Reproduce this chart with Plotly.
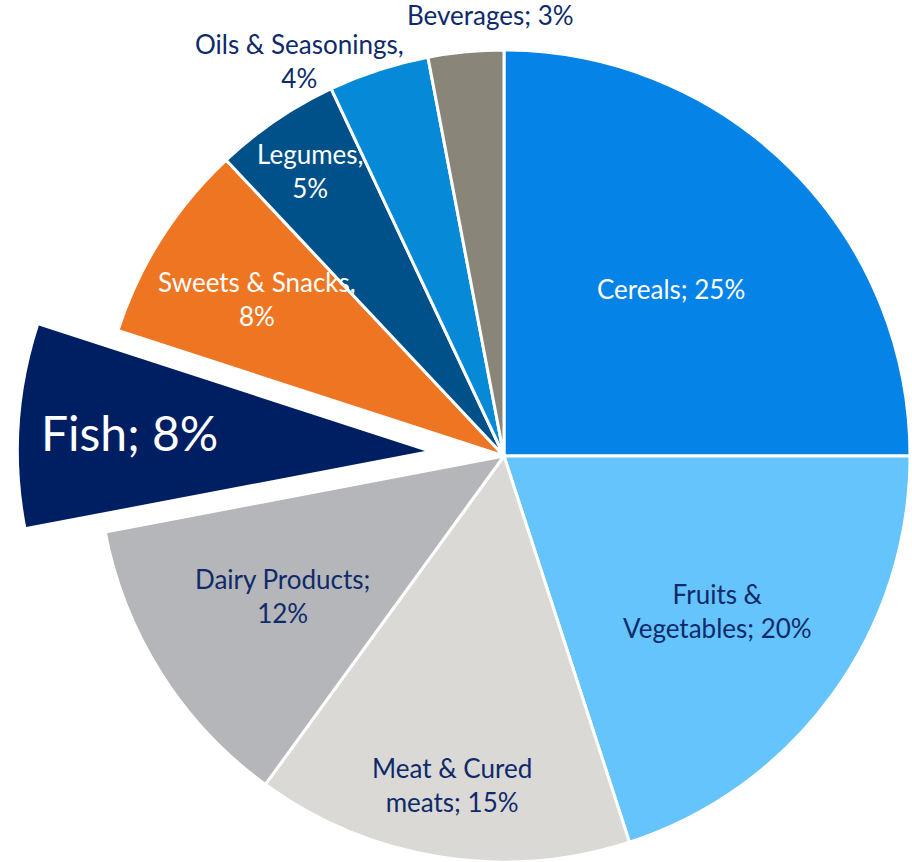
import numpy as np
import plotly.graph_objects as go

categories = ["Cereals", "Fruits &<br>Vegetables", "Meat & Cured<br>meats", "Dairy Products;<br>",
              "Fish", "Sweets & Snacks,<br>", "Legumes,<br>", "Oils & Seasonings,<br>", "Beverages"]
values = [25, 20, 15, 12, 8, 8, 5, 4, 3]
colors = ["#0583E6", "#64C4FB", "#DAD9D6", "#B5B6B9", "#001E62",
          "#EE7623", "#00508A", "#0689D6", "#898578"]
text_colors = ["#FFFFFF", "#0E2A6A", "#0E2A6A", "#0E2A6A", "#FFFFFF",
               "#FFFFFF", "#FFFFFF", "#0E2A6A", "#0E2A6A"]
pulled = "Fish"

W, H = 912, 862
FONT = "Lato"
vals = np.array(values, dtype=float)
frac = vals / vals.sum()
cum = np.concatenate([[0], np.cumsum(frac)])
mids = (cum[:-1] + frac / 2) * 2 * np.pi  # clockwise from 12 o'clock


def label(c, v):
    sep = "" if c.endswith("<br>") else "; "
    return f"{c}{sep}{v}%"


texts = [label(c, v) for c, v in zip(categories, values)]
fi = categories.index(pulled)
n = len(values)

# pie geometry (pixels) and label styling
cx, cy, r = 504, 456, 406
pull = 0.195
label_rad = [0.58, 0.65, 0.82, 0.645, 0.73, 0.72, 0.85, 1.0, 1.0]
label_shift = [(0, 0, "middle")] * 7 + [(-79, 9, "middle"), (25, 19, "bottom")]
label_size = [26, 26, 26, 26, 48, 26, 26, 26, 26]

fx = cx + pull * r * np.sin(mids[fi])
fy = cy - pull * r * np.cos(mids[fi])


def dom(x0, y0):
    return dict(x=[(x0 - r) / W, (x0 + r) / W],
                y=[1 - (y0 + r) / H, 1 - (y0 - r) / H])


def polar(x0, y0, i, rad):
    return x0 + rad * np.sin(mids[i]), y0 - rad * np.cos(mids[i])


main_colors = [("rgba(0,0,0,0)" if i == fi else c) for i, c in enumerate(colors)]
main_lw = [0 if i == fi else 3 for i in range(n)]
fish_colors = [(c if i == fi else "rgba(0,0,0,0)") for i, c in enumerate(colors)]

fig = go.Figure()
fig.add_trace(go.Pie(
    labels=categories, values=values, sort=False, direction="clockwise", rotation=0,
    textinfo="none",
    marker=dict(colors=main_colors, line=dict(color="#FFFFFF", width=main_lw)),
    domain=dom(cx, cy), showlegend=False, hoverinfo="skip",
))
fig.add_trace(go.Pie(
    labels=categories, values=values, sort=False, direction="clockwise", rotation=0,
    textinfo="none",
    marker=dict(colors=fish_colors, line=dict(color="#FFFFFF", width=0)),
    domain=dom(fx, fy), showlegend=False, hoverinfo="skip",
))

annotations = []
for i in range(n):
    x0, y0 = (fx, fy) if i == fi else (cx, cy)
    px, py = polar(x0, y0, i, label_rad[i] * r)
    sx, sy, ya = label_shift[i]
    annotations.append(dict(x=px / W, y=1 - py / H, xref="paper", yref="paper",
                            text=texts[i], showarrow=False, xanchor="center", yanchor=ya,
                            xshift=sx, yshift=sy,
                            font=dict(family=FONT, size=label_size[i], color=text_colors[i])))

fig.update_layout(width=W, height=H, margin=dict(l=0, r=0, t=0, b=0),
                  paper_bgcolor="#FFFFFF", plot_bgcolor="#FFFFFF",
                  annotations=annotations)
fig.write_html("out.html")
